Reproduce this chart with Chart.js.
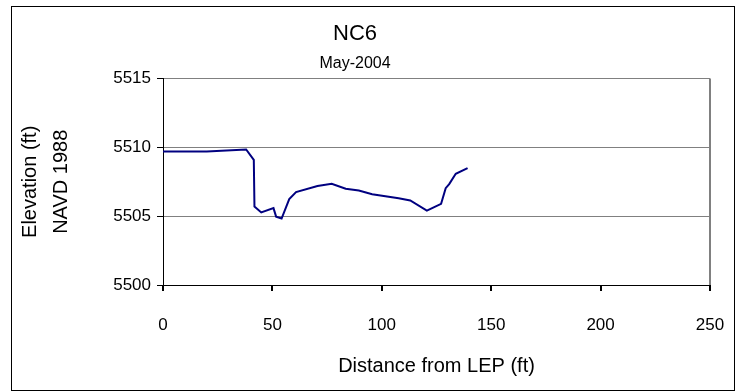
<!DOCTYPE html>
<html>
<head>
<meta charset="utf-8">
<script src="https://cdn.jsdelivr.net/npm/chart.js@4.4.1/dist/chart.umd.min.js"></script>
<style>
  html, body { margin: 0; padding: 0; background: #fff; }
  #wrap { width: 736px; height: 392px; }
</style>
</head>
<body>
<div id="wrap"><canvas id="lineChart" width="736" height="392"></canvas></div>
<script>
// Survey profile NC6, May-2004
const distance = [0, 20, 38, 41.5, 41.8, 44.9, 50.5, 51.7, 54.2, 57.7, 60.8, 70.6, 77.1, 83.5, 89.5, 95.6, 107.7, 113, 120.6, 127.1, 129.2, 130.8, 133.8, 139.2];
const elevation = [5509.7, 5509.7, 5509.85, 5509.1, 5505.7, 5505.27, 5505.59, 5504.97, 5504.83, 5506.24, 5506.75, 5507.2, 5507.36, 5507.0, 5506.87, 5506.6, 5506.31, 5506.14, 5505.41, 5505.9, 5507.04, 5507.33, 5508.08, 5508.5];
const xTicks = [0, 50, 100, 150, 200, 250];
const yTicks = [5500, 5505, 5510, 5515];

const font = 'Liberation Sans, Arial, sans-serif';

// outer frame round the whole chart
const framePlugin = {
    id: 'frame',
    afterDraw(chart) {
        const ctx = chart.ctx;
        ctx.save();
        ctx.strokeStyle = '#000';
        ctx.lineWidth = 1;
        ctx.strokeRect(11.5, 6.5, 723, 384);
        ctx.restore();
    }
};

const chartData = {
    datasets: [{
        label: 'NC6',
        data: distance.map((d, i) => ({ x: d, y: elevation[i] })),
        borderColor: '#000080',
        borderWidth: 2,
        pointRadius: 0,
        tension: 0,
        fill: false
    }]
};

const config = {
    type: 'line',
    data: chartData,
    options: {
        responsive: false,
        animation: false,
        layout: { padding: { left: 0, right: 26, top: 0, bottom: 0 } },
        plugins: {
            legend: { display: false },
            tooltip: { enabled: false },
            title: {
                display: true,
                text: 'NC6',
                color: '#000',
                font: { family: font, size: 22, weight: 'normal' },
                padding: { top: 21, bottom: 7 }
            },
            subtitle: {
                display: true,
                text: 'May-2004',
                color: '#000',
                font: { family: font, size: 16 },
                padding: { top: 0, bottom: 5 }
            }
        },
        scales: {
            x: {
                type: 'linear',
                min: xTicks[0],
                max: xTicks[xTicks.length - 1],
                afterBuildTicks: s => { s.ticks = xTicks.map(v => ({ value: v })); },
                afterFit: s => {
                    s.height = 107;
                    s.paddingLeft = 0;
                    s.paddingRight = 0;
                },
                ticks: { color: '#000', font: { family: font, size: 17 }, padding: 24, maxRotation: 0 },
                grid: {
                    drawOnChartArea: true,
                    color: c => c.tick && c.tick.value === 250 ? '#808080' : 'transparent',
                    tickColor: '#000',
                    tickLength: 6,
                    lineWidth: 2
                },
                border: { color: '#000', width: 1 },
                title: {
                    display: true,
                    text: 'Distance from LEP (ft)',
                    color: '#000',
                    font: { family: font, size: 20 },
                    padding: { top: 0, bottom: 14 }
                }
            },
            y: {
                min: yTicks[0],
                max: yTicks[yTicks.length - 1],
                afterBuildTicks: s => { s.ticks = yTicks.map(v => ({ value: v })); },
                afterFit: s => { s.width = 163; },
                ticks: {
                    color: '#000',
                    font: { family: font, size: 17 },
                    padding: 6,
                    callback: v => String(v)
                },
                grid: {
                    color: c => c.tick && c.tick.value === 5500 ? 'transparent' : '#808080',
                    tickColor: '#000',
                    tickLength: 6,
                    lineWidth: 1
                },
                border: { color: '#000', width: 1 },
                title: {
                    display: true,
                    text: ['Elevation (ft)', 'NAVD 1988'],
                    color: '#000',
                    font: { family: font, size: 20, lineHeight: 1.55 },
                    padding: { top: 15, bottom: 0 }
                }
            }
        }
    },
    plugins: [framePlugin]
};

const profileChart = new Chart(document.getElementById('lineChart'), config);
</script>
</body>
</html>
